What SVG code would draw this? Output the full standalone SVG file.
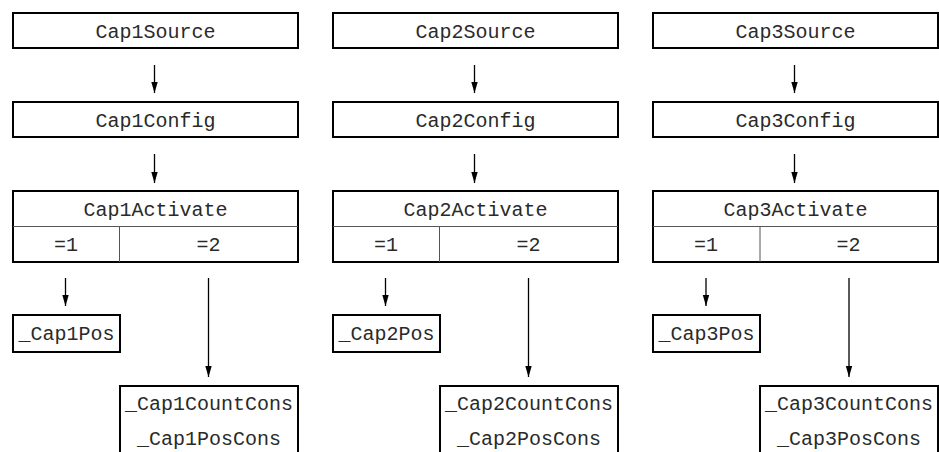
<svg xmlns="http://www.w3.org/2000/svg" width="939" height="452" viewBox="0 0 939 452">
<defs>
<style>
.box{fill:#fff;stroke:#000;stroke-width:2}
.div{stroke:#555;stroke-width:1;fill:none}
.t{font-family:"Liberation Mono","Courier New",monospace;font-size:20px;fill:#2a2a2a;text-anchor:middle}
.c{stroke:#000;stroke-width:1.3;fill:none;marker-end:url(#ah)}
</style>
<marker id="ah" viewBox="0 0 11 8" refX="11" refY="4" markerWidth="11" markerHeight="8" markerUnits="userSpaceOnUse" orient="auto">
<path d="M0,0.8 L11,4 L0,7.2 Z" fill="#000"/>
</marker>
</defs>
<g id="connectors">
<line class="c" x1="154.5" y1="65" x2="154.5" y2="93"/>
<line class="c" x1="154.5" y1="154" x2="154.5" y2="183"/>
<line class="c" x1="65.5" y1="278" x2="65.5" y2="306"/>
<line class="c" x1="208.5" y1="278" x2="208.5" y2="377"/>
<line class="c" x1="474.5" y1="65" x2="474.5" y2="93"/>
<line class="c" x1="474.5" y1="154" x2="474.5" y2="183"/>
<line class="c" x1="385.5" y1="278" x2="385.5" y2="306"/>
<line class="c" x1="528.5" y1="278" x2="528.5" y2="377"/>
<line class="c" x1="794.5" y1="65" x2="794.5" y2="93"/>
<line class="c" x1="794.5" y1="154" x2="794.5" y2="183"/>
<line class="c" x1="706" y1="278" x2="706" y2="306"/>
<line class="c" x1="849" y1="278" x2="849" y2="377"/>
</g>
<g id="cap1source"><rect class="box" x="13" y="13" width="285" height="35"/><text class="t" x="155.5" y="38">Cap1Source</text></g>
<g id="cap1config"><rect class="box" x="13" y="102" width="285" height="35"/><text class="t" x="155.5" y="127">Cap1Config</text></g>
<g id="cap1activate"><rect class="box" x="13" y="191" width="285" height="71"/><line class="div" x1="13" y1="226.5" x2="298" y2="226.5"/><line class="div" x1="119.5" y1="226.5" x2="119.5" y2="262"/><text class="t" x="155.5" y="216">Cap1Activate</text><text class="t" x="66" y="251">=1</text><text class="t" x="208.5" y="251">=2</text></g>
<g id="cap1pos"><rect class="box" x="13" y="315" width="107" height="37"/><text class="t" x="66.5" y="340">_Cap1Pos</text></g>
<g id="cap1cons"><rect class="box" x="120" y="386" width="178" height="80"/><text class="t" x="209" y="410">_Cap1CountCons</text><text class="t" x="209" y="445">_Cap1PosCons</text></g>

<g id="cap2source"><rect class="box" x="333" y="13" width="285" height="35"/><text class="t" x="475.5" y="38">Cap2Source</text></g>
<g id="cap2config"><rect class="box" x="333" y="102" width="285" height="35"/><text class="t" x="475.5" y="127">Cap2Config</text></g>
<g id="cap2activate"><rect class="box" x="333" y="191" width="285" height="71"/><line class="div" x1="333" y1="226.5" x2="618" y2="226.5"/><line class="div" x1="439.5" y1="226.5" x2="439.5" y2="262"/><text class="t" x="475.5" y="216">Cap2Activate</text><text class="t" x="386" y="251">=1</text><text class="t" x="528.5" y="251">=2</text></g>
<g id="cap2pos"><rect class="box" x="333" y="315" width="107" height="37"/><text class="t" x="386.5" y="340">_Cap2Pos</text></g>
<g id="cap2cons"><rect class="box" x="440" y="386" width="178" height="80"/><text class="t" x="529" y="410">_Cap2CountCons</text><text class="t" x="529" y="445">_Cap2PosCons</text></g>

<g id="cap3source"><rect class="box" x="653" y="13" width="285" height="35"/><text class="t" x="795.5" y="38">Cap3Source</text></g>
<g id="cap3config"><rect class="box" x="653" y="102" width="285" height="35"/><text class="t" x="795.5" y="127">Cap3Config</text></g>
<g id="cap3activate"><rect class="box" x="653" y="191" width="285" height="71"/><line class="div" x1="653" y1="226.5" x2="938" y2="226.5"/><line class="div" x1="760" y1="226.5" x2="760" y2="262"/><text class="t" x="795.5" y="216">Cap3Activate</text><text class="t" x="706" y="251">=1</text><text class="t" x="848.5" y="251">=2</text></g>
<g id="cap3pos"><rect class="box" x="653" y="315" width="107" height="37"/><text class="t" x="706.5" y="340">_Cap3Pos</text></g>
<g id="cap3cons"><rect class="box" x="760" y="386" width="178" height="80"/><text class="t" x="849" y="410">_Cap3CountCons</text><text class="t" x="849" y="445">_Cap3PosCons</text></g>
</svg>
